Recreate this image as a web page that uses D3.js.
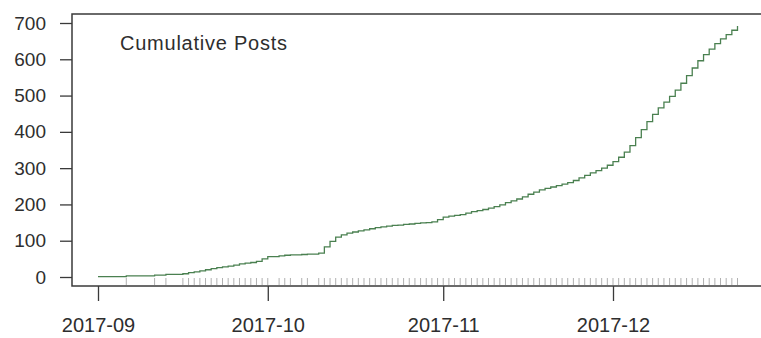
<!DOCTYPE html>
<html>
<head>
<meta charset="utf-8">
<script src="https://cdn.jsdelivr.net/npm/d3@7/dist/d3.min.js"></script>
<style>
  html, body { margin: 0; padding: 0; background: #fff; }
  svg { display: block; }
  text { font-family: "Liberation Sans", Arial, Helvetica, sans-serif; fill: #2e2e2e; }
</style>
</head>
<body>
<svg id="chart" width="761" height="338"></svg>
<script>
// ---- data ----
const startDate = "2017-09-01";
// cumulative posts, one value per day starting at startDate
const sepValues = [1,1,1,1,1,3,3,3,3,3,5,5,7,7,7,9,12,14,17,20,23,26,28,30,33,36,38,40,43,50];
const octValues = [56,56,58,60,61,61,62,63,63,66,83,98,110,116,121,124,127,130,133,136,138,140,142,143,145,146,148,149,150,152,158];
const novValues = [165,168,170,172,176,180,183,186,190,194,199,205,210,215,221,228,234,240,244,248,252,256,260,266,273,280,287,293,300,308];
const decValues = [318,330,344,362,384,406,428,448,466,482,498,515,534,555,576,596,613,628,643,656,668,680,692];
const yTicks = [0,100,200,300,400,500,600,700];
const xTickLabels = ["2017-09","2017-10","2017-11","2017-12"];
const chartLabel = "Cumulative Posts";

// ---- build series ----
const parse = d3.utcParse("%Y-%m-%d");
const t0 = parse(startDate);
const allValues = [].concat(sepValues, octValues, novValues, decValues);
const series = allValues.map((v, i) => ({ date: d3.utcDay.offset(t0, i), value: v }));
const rugDates = series.filter((d, i) => i > 0 && d.value > series[i - 1].value).map(d => d.date);

const svg = d3.select("#chart");
const x = d3.scaleUtc()
  .domain([parse("2017-09-01"), parse("2017-12-01")])
  .range([98, 613]);
const y = d3.scaleLinear().domain([0, 700]).range([277, 23]);

// box (right edge is off-canvas)
svg.append("rect")
  .attr("x", 72).attr("y", 14)
  .attr("width", 720).attr("height", 272)
  .attr("fill", "none").attr("stroke", "#3a3a3a").attr("stroke-width", 1.5);

// y axis
const yAxis = d3.axisLeft(y).tickValues(yTicks).tickSize(12).tickPadding(14).tickFormat(d3.format("d"));
const gy = svg.append("g").attr("transform", "translate(72,0)").call(yAxis);
gy.select(".domain").remove();
gy.selectAll(".tick line").attr("stroke", "#3a3a3a").attr("stroke-width", 1.3);
gy.selectAll(".tick text").style("font-size", "19px").attr("fill", "#2e2e2e")
  .attr("font-family", "Liberation Sans, Arial, sans-serif");

// x axis
const xTickDates = xTickLabels.map(s => d3.utcParse("%Y-%m")(s));
const xAxis = d3.axisBottom(x).tickValues(xTickDates).tickSize(15).tickPadding(17)
  .tickFormat(d3.utcFormat("%Y-%m"));
const gx = svg.append("g").attr("transform", "translate(0,286)").call(xAxis);
gx.select(".domain").remove();
gx.selectAll(".tick line").attr("stroke", "#3a3a3a").attr("stroke-width", 1.3);
gx.selectAll(".tick text").style("font-size", "20px").attr("fill", "#2e2e2e")
  .attr("font-family", "Liberation Sans, Arial, sans-serif");

// rug
svg.append("g").selectAll("line").data(rugDates).join("line")
  .attr("x1", d => x(d)).attr("x2", d => x(d))
  .attr("y1", 278).attr("y2", 285)
  .attr("stroke", "#b0b0b0").attr("stroke-width", 1);

// cumulative line
const line = d3.line().x(d => x(d.date)).y(d => y(d.value)).curve(d3.curveStepAfter);
svg.append("path").datum(series.slice(0, -1).concat([series[series.length - 1]]))
  .attr("d", line)
  .attr("fill", "none").attr("stroke", "#4a8050").attr("stroke-width", 1.3);

// label
svg.append("text").attr("x", 120).attr("y", 50)
  .style("font-size", "20px")
  .attr("textLength", 167).attr("lengthAdjust", "spacing")
  .text(chartLabel);
</script>
</body>
</html>
